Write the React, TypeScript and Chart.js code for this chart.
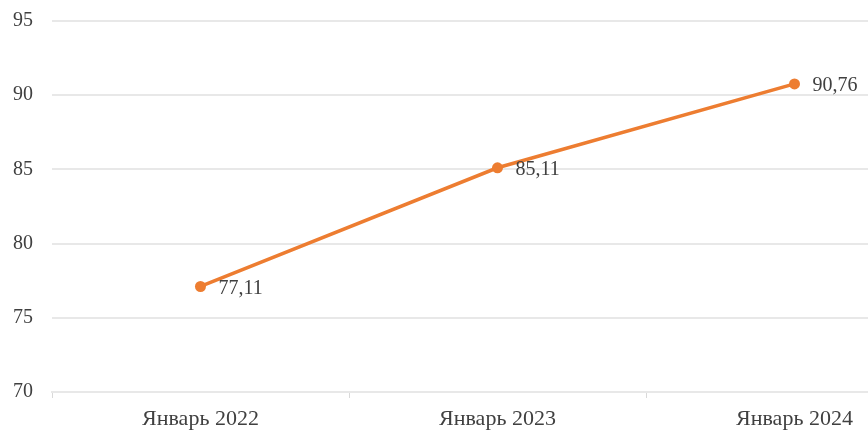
import React, { useEffect, useRef } from "react";
import { Chart, registerables } from "chart.js";

Chart.register(...registerables);

const categories = ["Январь 2022", "Январь 2023", "Январь 2024"];
const values = [77.11, 85.11, 90.76];
const yMin = 70;
const yMax = 95;
const yStep = 5;

const FONT = "'Liberation Serif', 'Times New Roman', serif";
const TEXT = "#404040";
const ORANGE = "#ED7D31";
const GRID = "#e8e8e8";

const fmt = (v: number) => v.toFixed(2).replace(".", ",");

const labelPlugin = {
  id: "valueLabels",
  afterDatasetsDraw(chart: any) {
    const ctx = chart.ctx;
    const meta = chart.getDatasetMeta(0);
    ctx.save();
    ctx.font = `20px ${FONT}`;
    ctx.fillStyle = TEXT;
    ctx.textAlign = "left";
    ctx.textBaseline = "middle";
    meta.data.forEach((pt: any, i: number) => {
      ctx.fillText(fmt(values[i]), pt.x + 18, pt.y + 2);
    });
    ctx.restore();
  },
};

export default function App() {
  const ref = useRef<HTMLCanvasElement>(null);
  useEffect(() => {
    if (!ref.current) return;
    const chart = new Chart(ref.current, {
      type: "line",
      data: {
        labels: categories,
        datasets: [
          {
            data: values,
            borderColor: ORANGE,
            backgroundColor: ORANGE,
            borderWidth: 3.5,
            pointRadius: 5.5,
            pointBorderWidth: 0,
            pointBackgroundColor: ORANGE,
            tension: 0,
          },
        ],
      },
      options: {
        responsive: false,
        animation: false,
        layout: { padding: { top: 21, left: 0, right: 17, bottom: 0 } },
        plugins: {
          legend: { display: false },
          tooltip: { enabled: false },
        },
        scales: {
          x: {
            offset: true,
            grid: {
              offset: true,
              drawOnChartArea: false,
              drawTicks: true,
              tickLength: 6,
              color: "#d9d9d9",
              lineWidth: 1,
            },
            border: { display: true, color: GRID, width: 2 },
            ticks: {
              color: TEXT,
              font: { family: FONT, size: 22 },
              padding: 8,
              maxRotation: 0,
            },
            afterFit: (s: any) => {
              s.height = 45;
            },
          },
          y: {
            min: yMin,
            max: yMax,
            ticks: {
              stepSize: yStep,
              color: TEXT,
              font: { family: FONT, size: 20 },
              padding: 0,
            },
            grid: {
              drawTicks: true,
              tickLength: 19,
              tickColor: "rgba(0,0,0,0)",
              color: GRID,
              lineWidth: 2,
            },
            border: { display: false },
            afterFit: (s: any) => {
              s.width = 52;
            },
          },
        },
      },
      plugins: [labelPlugin],
    });
    return () => chart.destroy();
  }, []);
  return (
    <div style={{ position: "fixed", left: 0, top: 0, width: 960, height: 437, background: "#fff" }}>
      <canvas ref={ref} width={960} height={437} style={{ display: "block" }} />
    </div>
  );
}
